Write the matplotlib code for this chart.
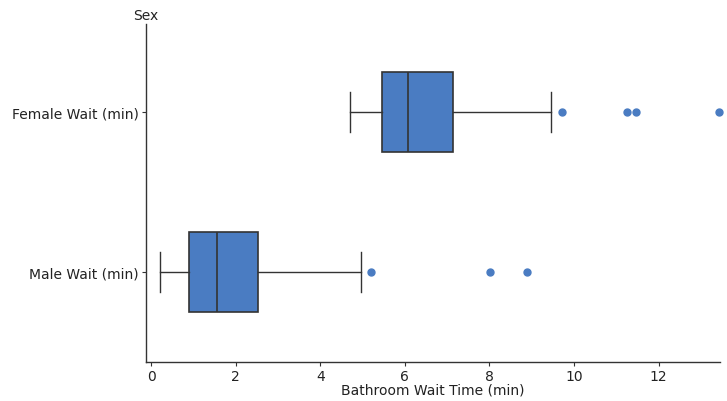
import matplotlib
matplotlib.use("Agg")
import matplotlib.pyplot as plt

# ---------- данные ----------
groups = ["Male Wait (min)", "Female Wait (min)"]
whisker_lo = [0.21, 4.70]
q1 = [0.90, 5.46]
median = [1.56, 6.07]
q3 = [2.53, 7.13]
whisker_hi = [4.96, 9.45]
outliers = [[5.20, 8.01, 8.88], [9.71, 11.24, 11.46, 13.42]]

blue = "#4a7cc2"
dark = "#333333"

stats = []
for i, g in enumerate(groups):
    stats.append({"label": g, "whislo": whisker_lo[i], "q1": q1[i], "med": median[i],
                  "q3": q3[i], "whishi": whisker_hi[i], "fliers": outliers[i]})

fig = plt.figure(figsize=(7.27, 4.02), dpi=100)
ax = fig.add_axes([0.2008, 0.097, 0.789, 0.841])

res = ax.bxp(stats, positions=[0, 1], vert=False, widths=0.5, patch_artist=True,
             boxprops=dict(facecolor=blue, edgecolor=dark, linewidth=1.2),
             medianprops=dict(color=dark, linewidth=1.2),
             whiskerprops=dict(color=dark, linewidth=1.0),
             capprops=dict(color=dark, linewidth=1.0),
             capwidths=0.25,
             flierprops=dict(marker="o", markersize=5, markerfacecolor=blue,
                             markeredgecolor=blue))
for f in res["fliers"]:
    f.set_clip_on(False)

ax.set_xlim(-0.12, 13.44)
ax.set_ylim(-0.56, 1.55)
ax.set_xticks([0, 2, 4, 6, 8, 10, 12])
ax.set_yticks([0, 1])
ax.set_yticklabels(groups)

for s in ["top", "right"]:
    ax.spines[s].set_visible(False)
for s in ["left", "bottom"]:
    ax.spines[s].set_color(dark)
    ax.spines[s].set_linewidth(1.0)

ax.tick_params(axis="both", colors=dark, labelsize=10, length=3, width=0.8, pad=2)
ax.tick_params(axis="both", labelcolor="#222222")
ax.set_xlabel("Bathroom Wait Time (min)", fontsize=10, color="#222222", labelpad=0)
ax.text(-0.12, 1.56, "Sex", ha="center", va="bottom", fontsize=10, color="#222222")

fig.savefig("out.png", dpi=100)
